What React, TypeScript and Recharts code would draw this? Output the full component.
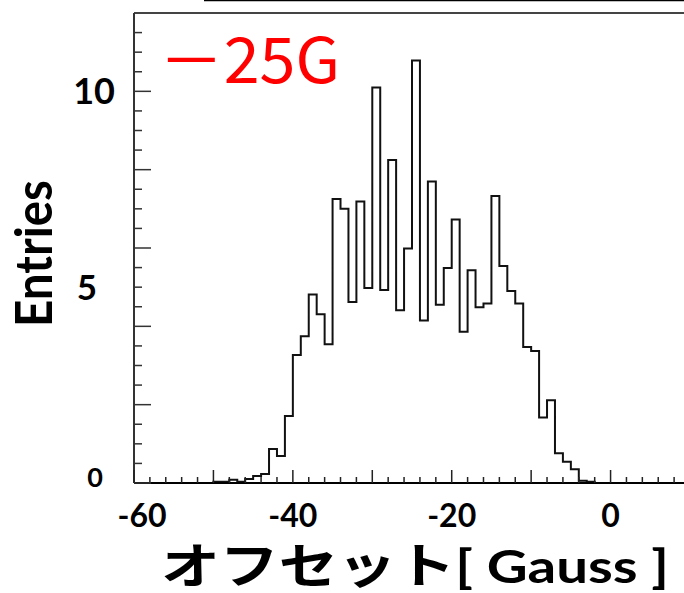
import { LineChart, Line, XAxis, YAxis, ReferenceLine } from 'recharts';

// histogram: 1 Gauss bins, lower edge of first bin at -51
const FIRST_EDGE = -51;
const counts = [
  0, 0.03, 0.03, 0.08, 0.03, 0.1, 0.18, 0.23, 0.87, 0.69,
  1.71, 3.27, 3.75, 4.81, 4.31, 3.54, 7.25, 7.0, 4.62, 7.19,
  4.98, 10.1, 4.93, 8.25, 4.41, 5.99, 10.79, 4.15, 7.7, 4.55,
  5.49, 6.73, 3.86, 5.43, 4.49, 4.58, 7.33, 5.54, 4.9, 4.58,
  3.47, 3.37, 1.67, 2.11, 0.76, 0.54, 0.35, 0.06, 0.03, 0,
];

const xTicks = [
  -60, -58, -56, -54, -52, -50, -48, -46, -44, -42, -40, -38, -36, -34, -32,
  -30, -28, -26, -24, -22, -20, -18, -16, -14, -12, -10, -8, -6, -4, -2,
  0, 2, 4, 6, 8, 10,
];
const xLabels = [-60, -40, -20, 0];
const yTicks = [
  0, 0.5, 1, 1.5, 2, 2.5, 3, 3.5, 4, 4.5, 5, 5.5, 6, 6.5, 7, 7.5, 8, 8.5,
  9, 9.5, 10, 10.5, 11, 11.5,
];
const yLabels = [0, 5, 10];

const histData = counts.map((v, i) => ({ x: FIRST_EDGE + i, v }));

const LATIN = 'Lato, "Open Sans", sans-serif';
const CJK = '"Noto Sans CJK JP", sans-serif';

// where each y label sits relative to its tick
const yLabelStyle: Record<number, { dx: number; dy: number; size: number }> = {
  10: { dx: -19, dy: 13, size: 36 },
  5: { dx: -37, dy: 13, size: 35 },
  0: { dx: -31, dy: 4, size: 27 },
};

const XTick = (props: any) => {
  const { x, y, payload } = props;
  const v = payload.value;
  const major = v % 10 === 0;
  return (
    <g>
      <line x1={x} x2={x} y1={y} y2={y - (major ? 13 : 6)} stroke="#222" strokeWidth={1.5} />
      {xLabels.includes(v) && (
        <text
          x={x + (v === -60 ? 8 : 0)}
          y={y + 44}
          textAnchor="middle"
          fontFamily={LATIN}
          fontWeight={700}
          fontSize={32}
          fill="#000"
        >
          {String(v)}
        </text>
      )}
    </g>
  );
};

const YTick = (props: any) => {
  const { x, y, payload } = props;
  const v = payload.value;
  const major = v % 2 === 0;
  const st = yLabelStyle[v];
  return (
    <g>
      <line x1={x} x2={x + (major ? 17 : 8)} y1={y} y2={y} stroke="#333" strokeWidth={1.5} />
      {yLabels.includes(v) && st && (
        <text
          x={x + st.dx}
          y={y + st.dy}
          textAnchor="end"
          fontFamily={LATIN}
          fontWeight={700}
          fontSize={st.size}
          fill="#000"
        >
          {String(v)}
        </text>
      )}
    </g>
  );
};

export default function App() {
  return (
    <div
      style={{
        position: 'absolute',
        left: 0,
        top: 0,
        width: 684,
        height: 593,
        overflow: 'hidden',
        background: '#fff',
      }}
    >
      <LineChart
        width={700}
        height={593}
        data={histData}
        margin={{ top: 13, right: 10, bottom: 109, left: 133 }}
      >
        <XAxis
          dataKey="x"
          type="number"
          domain={[-60, 10]}
          ticks={xTicks}
          interval={0}
          allowDataOverflow
          height={1}
          tickSize={0}
          tickMargin={0}
          tickLine={false}
          axisLine={{ stroke: '#000', strokeWidth: 2 }}
          tick={<XTick />}
        />
        <YAxis
          type="number"
          domain={[0, 12]}
          ticks={yTicks}
          interval={0}
          allowDataOverflow
          width={1}
          tickSize={0}
          tickMargin={0}
          tickLine={false}
          axisLine={{ stroke: '#333', strokeWidth: 2 }}
          tick={<YTick />}
        />
        <ReferenceLine y={12} stroke="#444" strokeWidth={2} />
        <Line
          dataKey="v"
          type="stepAfter"
          stroke="#111"
          strokeWidth={2}
          dot={false}
          isAnimationActive={false}
        />
      </LineChart>

      <svg
        width={684}
        height={593}
        style={{ position: 'absolute', left: 0, top: 0, pointerEvents: 'none' }}
      >
        <line x1={204} x2={684} y1={0.5} y2={0.5} stroke="#000" strokeWidth={1.5} />
        <text
          x={159}
          y={83}
          fontFamily={CJK}
          fontSize={63}
          fill="#ff0000"
          textLength={181}
          lengthAdjust="spacingAndGlyphs"
        >
          －25G
        </text>
        <text
          transform="translate(52,253.5) rotate(-90)"
          textAnchor="middle"
          fontFamily={LATIN}
          fontWeight={700}
          fontSize={51}
          fill="#000"
          textLength={147}
          lengthAdjust="spacingAndGlyphs"
        >
          Entries
        </text>
        <text
          x={161}
          y={583}
          fontWeight={700}
          fill="#000"
          textLength={508}
          lengthAdjust="spacingAndGlyphs"
        >
          <tspan fontFamily={CJK} fontSize={48}>オフセット</tspan>
          <tspan fontFamily={LATIN} fontSize={46}>[ Gauss ]</tspan>
        </text>
      </svg>
    </div>
  );
}
